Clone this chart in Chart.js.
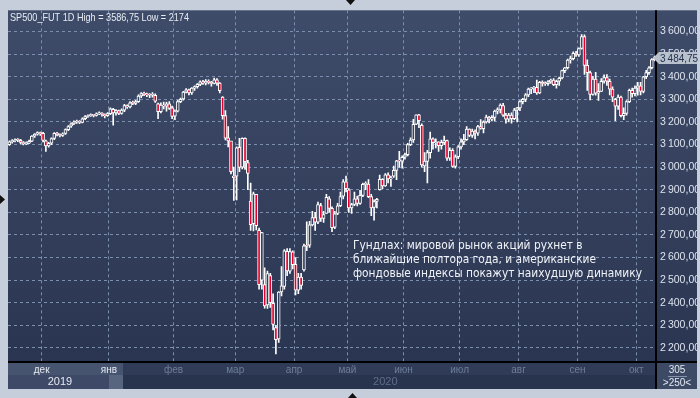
<!DOCTYPE html>
<html>
<head>
<meta charset="utf-8">
<script src="https://cdn.jsdelivr.net/npm/chart.js"></script>
<style>
  html, body { margin: 0; padding: 0; background: #c6cedb; }
  canvas { display: block; }
</style>
</head>
<body>
<canvas id="chart" width="700" height="398"></canvas>
<script>
// Month buckets (bars per month) and labels on the time strip
const monthNames = ["", "дек", "янв", "фев", "мар", "апр", "май", "июн", "июл", "авг", "сен", "окт"];
const monthBars = [12, 24, 23, 22, 21, 19, 20, 20, 21, 21, 21, 7];
const yearNames = ["2019", "2020"];
const yearBars = [18, 134];

// Daily OHLC, one line per month (Nov 2019 .. Oct 2020)
const openPrices = [
  3100,3112,3117,3121,3119,3109,3104,3106,3115,3138,3146,3153,
  3150,3117,3094,3106,3127,3150,3144,3140,3149,3166,3181,3192,3200,3203,3198,3214,3224,3228,3231,3229,3236,3239,3233,3228,
  3237,3256,3240,3250,3238,3252,3272,3266,3285,3282,3290,3315,3325,3322,3320,3318,3318,3280,3245,3275,3270,3280,3262,
  3226,3248,3290,3302,3332,3342,3328,3350,3356,3366,3378,3372,3380,3375,3370,3386,3372,3310,3228,3130,3116,2960,
  2960,3088,3000,3128,3020,2850,2750,2880,2720,2500,2480,2390,2520,2398,2290,2240,2448,2472,2628,2540,2625,
  2570,2456,2514,2545,2652,2655,2745,2777,2757,2830,2773,2795,2860,2818,2735,2795,2830,2872,2935,
  2900,2820,2835,2860,2840,2875,2924,2925,2870,2822,2848,2900,2946,2917,2966,2948,2960,2986,3028,3027,
  3044,3055,3100,3120,3190,3231,3185,3005,3025,3064,3125,3108,3112,3095,3110,3118,3040,3075,3003,3046,
  3090,3112,3122,3168,3140,3160,3150,3180,3170,3200,3222,3212,3220,3248,3255,3272,3230,3212,3230,3215,3252,
  3262,3290,3300,3320,3345,3348,3353,3328,3375,3370,3369,3378,3385,3365,3380,3395,3427,3440,3474,3480,3504,
  3497,3525,3578,3450,3418,3322,3390,3327,3335,3380,3396,3380,3345,3300,3270,3310,3228,3238,3290,3340,3325,
  3350,3360,3335,3400,3418,3440,3476
];
const highPrices = [
  3116,3122,3125,3127,3123,3113,3112,3120,3140,3149,3156,3155,
  3154,3120,3110,3130,3153,3154,3148,3152,3170,3184,3196,3205,3208,3206,3218,3228,3232,3236,3234,3240,3245,3241,3236,3241,
  3262,3260,3255,3252,3258,3278,3276,3290,3292,3296,3320,3330,3332,3328,3326,3330,3324,3284,3285,3288,3288,3290,3270,
  3254,3296,3306,3336,3348,3346,3352,3360,3370,3382,3384,3388,3386,3380,3394,3392,3374,3312,3250,3180,3110,3000,
  3090,3128,3130,3130,3030,2930,2890,2880,2730,2712,2555,2540,2530,2440,2300,2450,2560,2635,2640,2640,2630,
  2600,2530,2530,2660,2758,2760,2805,2800,2845,2840,2805,2880,2870,2825,2805,2840,2890,2945,2960,
  2905,2840,2890,2872,2898,2930,2935,2945,2880,2855,2862,2965,2950,2972,2975,2960,3005,3030,3070,3050,
  3062,3105,3130,3212,3232,3234,3192,3065,3074,3155,3130,3125,3112,3120,3138,3120,3085,3082,3055,3095,
  3125,3145,3180,3170,3168,3165,3185,3210,3205,3230,3225,3228,3252,3262,3280,3282,3238,3238,3240,3260,3265,
  3295,3305,3325,3350,3352,3358,3385,3380,3382,3378,3383,3390,3392,3385,3398,3430,3442,3478,3492,3510,3512,
  3528,3587,3585,3475,3425,3402,3420,3370,3392,3408,3410,3390,3355,3305,3320,3315,3262,3295,3345,3350,3360,
  3375,3375,3402,3428,3445,3480,3492
];
const lowPrices = [
  3096,3106,3112,3113,3104,3098,3100,3104,3113,3132,3142,3140,
  3112,3070,3088,3100,3122,3138,3134,3136,3145,3162,3176,3188,3194,3192,3196,3210,3220,3224,3222,3226,3232,3226,3218,3224,
  3232,3186,3230,3232,3234,3246,3260,3262,3276,3276,3286,3308,3316,3312,3308,3310,3286,3215,3240,3258,3248,3255,3215,
  3210,3244,3285,3296,3328,3320,3322,3340,3350,3360,3366,3364,3368,3358,3368,3362,3328,3212,3120,3090,2970,2853,
  2855,2980,2992,2990,2900,2720,2718,2722,2460,2460,2376,2375,2380,2280,2174,2225,2430,2460,2520,2530,2550,
  2435,2440,2460,2540,2630,2645,2740,2720,2750,2760,2755,2795,2800,2715,2728,2790,2825,2860,2890,
  2800,2795,2830,2828,2835,2870,2900,2865,2785,2766,2820,2898,2905,2915,2930,2915,2955,2945,3000,2995,
  3035,3050,3095,3110,3188,3175,3000,2980,2930,3040,3080,3085,3070,3080,3100,3030,3030,3000,2995,3038,
  3080,3100,3118,3135,3132,3125,3140,3168,3152,3195,3196,3205,3205,3236,3240,3225,3195,3200,3195,3210,3200,
  3250,3280,3290,3312,3325,3330,3322,3325,3358,3362,3362,3370,3360,3350,3362,3390,3418,3435,3460,3475,3490,
  3490,3522,3410,3340,3298,3318,3318,3295,3335,3372,3362,3320,3290,3206,3255,3222,3210,3230,3285,3310,3315,
  3318,3320,3328,3392,3410,3435,3470
];
const closePrices = [
  3112,3118,3121,3120,3110,3104,3106,3114,3138,3146,3153,3148,
  3118,3094,3105,3126,3150,3144,3140,3148,3166,3180,3192,3200,3203,3198,3214,3224,3228,3231,3229,3236,3239,3233,3228,3237,
  3258,3240,3250,3238,3252,3272,3266,3285,3282,3290,3315,3325,3322,3320,3318,3322,3292,3245,3275,3270,3280,3260,3225,
  3248,3290,3300,3332,3342,3328,3350,3356,3366,3378,3372,3380,3375,3370,3386,3372,3338,3228,3128,3116,2980,2954,
  3085,2999,3128,3024,2972,2746,2882,2741,2480,2711,2386,2529,2400,2304,2237,2447,2475,2630,2541,2626,2569,
  2456,2514,2477,2652,2650,2745,2777,2757,2835,2773,2790,2866,2818,2732,2793,2829,2870,2935,2905,
  2820,2835,2860,2840,2875,2924,2925,2870,2820,2848,2858,2946,2917,2966,2948,2952,2986,3028,3027,3044,
  3055,3100,3120,3190,3231,3206,3010,3027,3064,3125,3110,3112,3095,3110,3118,3040,3075,3003,3046,3090,
  3112,3122,3168,3140,3160,3150,3180,3172,3200,3222,3212,3220,3248,3255,3275,3230,3212,3230,3215,3252,3262,
  3290,3300,3320,3345,3348,3353,3328,3375,3370,3369,3378,3385,3365,3380,3393,3427,3440,3474,3480,3504,3497,
  3525,3578,3450,3418,3322,3390,3327,3335,3380,3396,3380,3345,3310,3270,3310,3228,3238,3290,3340,3325,3350,
  3360,3335,3400,3418,3440,3476,3484.75
];

const titleText = "SP500_FUT 1D High = 3586,75 Low = 2174";
const noteLines = [
  "Гундлах: мировой рынок акций рухнет в",
  "ближайшие полтора года, и американские",
  "фондовые индексы покажут наихудшую динамику"
];
const yMin = 2138;
const yMax = 3694;

// category labels: month name on the first bar of every month
const labels = [];
monthBars.forEach((n, m) => {
  for (let i = 0; i < n; i++) labels.push(i === 0 ? monthNames[m] : "");
});

const gridColor = "#7d8fae";
const topBg = [63, 76, 105];
const bottomBg = [42, 53, 81];

function mixBg(t) {
  const c = topBg.map((v, k) => Math.round(bottomBg[k] + (v - bottomBg[k]) * t));
  return `rgb(${c[0]},${c[1]},${c[2]})`;
}

// "3 600,00" style price labels
function fmtPrice(v) {
  const whole = Math.floor(v);
  const frac = Math.round((v - whole) * 100);
  const th = Math.floor(whole / 1000);
  const rest = String(whole % 1000).padStart(3, "0");
  return th + "\u202F" + rest + "," + String(frac).padStart(2, "0");
}

// draw text with a horizontal squeeze (the original uses a narrow bitmap font)
function squeezeText(ctx, text, x, y, k) {
  ctx.save();
  ctx.translate(x, y);
  ctx.scale(k, 1);
  ctx.fillText(text, 0, 0);
  ctx.restore();
}

const framePlugin = {
  id: "frame",
  beforeDraw(chart) {
    const { ctx, chartArea: a } = chart;
    ctx.save();
    ctx.fillStyle = "#c6cedb";
    ctx.fillRect(0, 0, chart.width, chart.height);
    const g = ctx.createLinearGradient(0, a.top, 0, a.bottom);
    g.addColorStop(0, mixBg(1));
    g.addColorStop(1, mixBg(0));
    ctx.fillStyle = g;
    ctx.fillRect(a.left, a.top, 697 - a.left, a.bottom - a.top);
    // time strip under the plot
    ctx.fillStyle = "#2f3b57";
    ctx.fillRect(a.left, a.bottom, a.right - a.left, 13);
    ctx.fillStyle = "#28334d";
    ctx.fillRect(a.left, a.bottom + 13, a.right - a.left, 14);
    // scroll thumb
    ctx.fillStyle = "#47546f";
    ctx.fillRect(a.left, a.bottom, 115, 13);
    ctx.fillStyle = "#3d4966";
    ctx.fillRect(a.left, a.bottom + 13, 115, 14);
    ctx.fillStyle = "#58657f";
    ctx.fillRect(a.left + 101, a.bottom + 13, 14, 14);
    // corner box
    ctx.fillStyle = "#3d4a66";
    ctx.fillRect(a.right, a.bottom, 697 - a.right, 27);
    ctx.restore();
  },
  afterDraw(chart) {
    const { ctx, chartArea: a, scales } = chart;
    const xs = scales.x, ys = scales.y;
    const half = (xs.getPixelForValue(1) - xs.getPixelForValue(0)) / 2;
    ctx.save();
    // black frame lines
    ctx.strokeStyle = "#000";
    ctx.lineWidth = 2;
    ctx.beginPath();
    ctx.moveTo(a.left, a.bottom);
    ctx.lineTo(697, a.bottom);
    ctx.moveTo(a.right, a.top);
    ctx.lineTo(a.right, a.bottom + 27);
    ctx.stroke();

    // month labels
    ctx.font = "10px 'Liberation Sans'";
    ctx.textAlign = "center";
    ctx.textBaseline = "middle";
    labels.forEach((lab, i) => {
      if (!lab) return;
      const x = xs.getPixelForValue(i) - half;
      ctx.fillStyle = x < a.left + 115 ? "#e4e9f1" : "#6f7e9a";
      ctx.fillText(lab, x, a.bottom + 8);
    });
    yearNames.forEach((y, k) => {
      const x = xs.getPixelForValue(yearBars[k]);
      ctx.fillStyle = x < a.left + 115 ? "#e4e9f1" : "#5f6e8a";
      ctx.font = "11px 'Liberation Sans'";
      ctx.fillText(y, x, a.bottom + 20);
    });

    // corner box text
    ctx.fillStyle = "#e4e9f1";
    ctx.font = "10px 'Liberation Sans'";
    ctx.fillText("305", 677, a.bottom + 8);
    ctx.fillText(">250<", 677, a.bottom + 21);
    ctx.strokeStyle = "#8593ad";
    ctx.lineWidth = 1;
    ctx.beginPath();
    ctx.moveTo(668, a.bottom + 14.5);
    ctx.lineTo(687, a.bottom + 14.5);
    ctx.stroke();

    // last price tag
    const last = closePrices[closePrices.length - 1];
    const py = Math.round(ys.getPixelForValue(last));
    ctx.fillStyle = "#b9c1cd";
    ctx.beginPath();
    ctx.moveTo(a.right - 3, py);
    ctx.lineTo(a.right + 3, py - 6);
    ctx.lineTo(697, py - 6);
    ctx.lineTo(697, py + 6);
    ctx.lineTo(a.right + 3, py + 6);
    ctx.closePath();
    ctx.fill();
    ctx.fillStyle = "#24314f";
    ctx.textAlign = "left";
    ctx.fillText(fmtPrice(last), a.right + 4, py + 1);

    // title
    ctx.fillStyle = "#e8edf4";
    ctx.font = "11px 'Liberation Sans'";
    ctx.textBaseline = "alphabetic";
    squeezeText(ctx, titleText, a.left + 2, a.top + 11, Math.min(1, 179 / ctx.measureText(titleText).width));

    // news caption, all lines share one squeeze so the last line ends at ~642px
    ctx.font = "12px 'DejaVu Sans'";
    ctx.fillStyle = "#f0f3f8";
    const kNote = Math.min(1, 289 / ctx.measureText(noteLines[2]).width);
    noteLines.forEach((t, k) => squeezeText(ctx, t, 353, 249 + k * 14, kNote));

    // little scroll arrows
    ctx.fillStyle = "#111";
    ctx.beginPath();
    ctx.moveTo(346, 0); ctx.lineTo(355, 0); ctx.lineTo(350.5, 5); ctx.closePath();
    ctx.moveTo(348, 398); ctx.lineTo(357, 398); ctx.lineTo(352.5, 393); ctx.closePath();
    ctx.moveTo(0, 195); ctx.lineTo(5, 199.5); ctx.lineTo(0, 204); ctx.closePath();
    ctx.fill();
    ctx.restore();
  }
};

new Chart(document.getElementById("chart"), {
  type: "bar",
  data: {
    labels,
    datasets: [
      {
        label: "body",
        order: 0,
        grouped: false,
        data: openPrices.map((o, i) => [o, closePrices[i]]),
        backgroundColor: (c) => {
          const i = c.dataIndex;
          if (closePrices[i] < openPrices[i]) return "#e4002b";
          return mixBg((closePrices[i] - yMin) / (yMax - yMin));
        },
        borderColor: "#ffffff",
        borderWidth: 1,
        borderSkipped: false,
        barThickness: 3,
        minBarLength: 1,
      },
      {
        label: "wick",
        order: 1,
        grouped: false,
        data: lowPrices.map((l, i) => [l, highPrices[i]]),
        backgroundColor: "#ffffff",
        borderWidth: 0,
        barThickness: 1,
      },
    ],
  },
  options: {
    responsive: false,
    animation: false,
    devicePixelRatio: 1,
    layout: { padding: { left: 8, top: 8, right: 3, bottom: 9 } },
    plugins: { legend: { display: false }, tooltip: { enabled: false } },
    scales: {
      x: {
        offset: true,
        ticks: { display: false, autoSkip: false },
        grid: {
          offset: true,
          drawTicks: false,
          color: (c) => (c.type === "tick" && labels[c.index]) ? gridColor : "rgba(0,0,0,0)",
        },
        border: { display: false, dash: [3, 3] },
        afterFit: (s) => { s.height = 27; },
      },
      y: {
        position: "right",
        min: yMin,
        max: yMax,
        afterBuildTicks: (s) => { s.ticks = s.ticks.filter((t) => t.value % 100 === 0); },
        afterFit: (s) => { s.width = 41; },
        ticks: {
          stepSize: 100,
          padding: 4,
          color: "#dde3ee",
          font: { family: "'Liberation Sans'", size: 10.5 },
          callback: (v) => fmtPrice(v),
        },
        grid: { color: gridColor, drawTicks: false },
        border: { display: false, dash: [3, 3] },
      },
    },
  },
  plugins: [framePlugin],
});
</script>
</body>
</html>
